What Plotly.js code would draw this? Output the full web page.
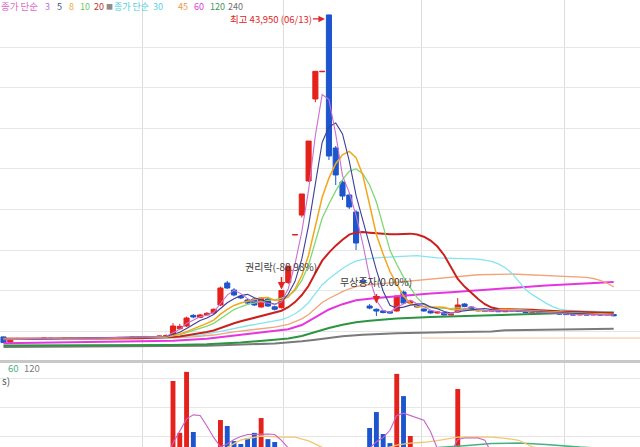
<!DOCTYPE html>
<html><head><meta charset="utf-8">
<script src="https://cdn.plot.ly/plotly-3.0.1.min.js"></script>
<style>html,body{margin:0;padding:0;background:#fff;overflow:hidden}#chart{width:640px;height:447px}</style>
</head><body><div id="chart"></div>
<script>
// ---- daily candles (index 0..90) ----
const open = [
4300,3650,4100,4050,4100,4020,4080,4150,4080,4120,
4200,4130,4100,4180,4120,4150,4220,4180,4230,4200,
4280,4250,4350,4300,4400,
4530,5300,5640,6950,6700,7000,7250,8230,10940,10070,
9300,8840,8960,7980,8960,8000,7900,11000,16850,19300,
23500,33600,36950,43950,27560,23370,21770,19680,11200,8100,
7700,7500,7400,7490,9820,8470,8350,7730,7490,7240,
7300,7000,7360,8350,7980,7700,7550,7450,7550,7400,
7500,7600,7450,7300,7400,7300,7350,7200,7150,7100,
7000,7100,7000,7080,7000,7050];
const high = [
4350,4150,4200,4150,4150,4100,4200,4200,4150,4250,
4250,4200,4200,4220,4180,4250,4300,4250,4300,4300,
4350,4400,4400,4450,4600,
6000,5900,6800,7100,7150,7350,7800,10500,11200,10300,
9450,9000,9100,9200,9100,8150,10000,13000,16900,21900,
28420,37000,37000,43950,27800,23600,22000,19900,11400,8350,
7800,7600,7450,9400,10000,8800,8450,7800,7550,7450,
7350,7200,9090,8450,8050,7750,7600,7650,7600,7620,
7720,7650,7500,7480,7450,7420,7400,7260,7200,7150,
7150,7150,7120,7120,7150,7100];
const low = [
3550,3600,4000,4000,4000,3950,4050,4050,4000,4100,
4100,4050,4080,4100,4050,4120,4150,4120,4180,4150,
4200,4220,4250,4280,4350,
4450,5150,5500,6600,6600,6900,7150,8100,10200,9300,
8950,8350,8100,7900,8000,7550,7800,10800,16850,19000,
23400,33200,36950,26080,23000,21160,20050,15000,11100,7700,
6870,7200,7150,7400,8350,8300,7900,7400,7150,7150,
6950,6950,7300,7950,7650,7450,7350,7400,7350,7350,
7450,7380,7250,7250,7250,7250,7150,7080,7000,6950,
6950,6950,6950,6950,6950,6850];
const close = [
3600,4100,4050,4100,4020,4080,4150,4080,4120,4200,
4130,4100,4180,4120,4150,4220,4180,4230,4200,4280,
4250,4350,4300,4400,4450,
5640,5600,6625,6750,7000,7200,7700,10320,10320,9460,
9100,8470,8230,9090,8100,7700,10000,13000,16900,21900,
28420,37000,37000,26580,24240,21650,20300,15860,11100,7850,
7480,7300,7240,9330,8470,8700,7980,7490,7250,7360,
7000,7100,8230,8050,7750,7500,7450,7550,7400,7550,
7650,7420,7300,7420,7300,7380,7200,7120,7050,7000,
7100,7000,7080,7000,7100,6900];
const volume = [
200000,250000,180000,150000,220000,170000,160000,210000,190000,150000,
230000,180000,170000,200000,160000,190000,210000,170000,180000,220000,
200000,190000,230000,210000,260000,
2930000,1110000,3250000,1140000,250000,200000,250000,1560000,1350000,820000,
720000,930000,1110000,1630000,890000,790000,150000,100000,50000,300000,
400000,450000,50000,550000,500000,450000,400000,500000,200000,1280000,
1840000,1070000,750000,3180000,2400000,1000000,400000,380000,350000,300000,
320000,350000,2650000,450000,380000,300000,280000,260000,240000,300000,
320000,260000,230000,250000,220000,240000,210000,200000,190000,210000,
230000,200000,190000,180000,210000,200000];

// ---- moving averages ----
const maDays = [0,4,8,12,16,20,22,23,24,25,26,27,28,29,30,31,32,33,34,35,36,37,38,39,40,41,42,43,44,45,46,47,48,49,50,51,52,53,54,55,56,57,58,59,60,61,62,63,64,65,66,67,68,69,70,71,72,73,74,75,76,77,78,79,80,81,82,83,84,85,86,87,88,89,90];
const ma3 = [3950,4057,4117,4137,4183,4243,
4300,4350,4383,4830,5230,5955,6325,6792,6983,7300,
8407,9447,10033,9627,9010,8600,8597,8473,8297,8600,
10233,13300,17267,22407,29107,34140,33527,29273,24157,22063,
19270,15753,11603,8810,7543,7340,7957,8347,8833,8383,
8057,7573,7367,7203,7153,7443,7793,8010,7767,7567,
7500,7467,7500,7533,7540,7457,7380,7340,7367,7293,
7233,7123,7057,7050,7033,7060,7027,7060,7000];
const ma5 = [4000,3974,4090,4146,4170,4228,
4276,4316,4350,4628,4878,5343,5813,6323,6635,7055,
7794,8508,9000,9380,9534,9116,8870,8598,8318,8624,
9578,11140,13900,18044,23444,28244,30180,30648,29294,25954,
21726,18630,15352,12518,9918,8194,7840,7964,8208,8344,
8394,7978,7756,7416,7240,7388,7548,7626,7726,7796,
7660,7530,7490,7520,7514,7464,7468,7418,7364,7320,
7284,7210,7150,7094,7054,7046,7036,7056,7016];
const ma8 = [4050,4021,4088,4130,4160,4204,
4251,4274,4308,4484,4659,4952,5264,5596,5958,6371,
7104,7689,8172,8481,8696,8850,9086,9136,8809,8769,
9211,10186,11865,14389,17878,21490,23850,25630,26711,27136,
26381,24216,20573,16883,14473,12348,10808,9329,8434,8044,
7999,7970,7978,7948,7669,7639,7558,7529,7530,7555,
7579,7629,7685,7613,7534,7478,7468,7449,7428,7403,
7349,7274,7221,7196,7144,7116,7069,7056,7029];
const ma10 = [4050,4037,4040,4116,4148,4191,
4228,4256,4286,4428,4570,4810,5065,5337,5632,5967,
6569,7161,7662,8008,8295,8455,8689,8799,8849,9079,
9347,10005,11249,13181,16034,18911,20660,22274,23669,24699,
24985,24405,23000,20906,17936,14960,13235,11658,10363,9131,
8294,7909,7860,7812,7792,7891,7763,7691,7571,7518,
7524,7539,7558,7623,7655,7562,7499,7454,7442,7417,
7374,7339,7284,7229,7187,7165,7123,7103,7055];
const ma20 = [4080,4069,4070,4080,4094,4147,
4172,4190,4209,4287,4359,4486,4618,4758,4911,5091,
5398,5708,5974,6218,6432,6632,6877,7068,7240,7523,
7958,8583,9455,10594,12164,13683,14675,15537,16259,16889,
17166,17205,17125,17044,16985,16936,16948,16966,17016,16915,
16640,16157,15430,14359,12864,11426,10499,9675,8967,8325,
7909,7724,7709,7718,7724,7727,7631,7573,7507,7468,
7449,7439,7421,7426,7421,7364,7311,7279,7249];

const ma30Days = [0,10,20,25,29,32,34,36,38,40,41,42,43,44,45,46,47,48,49,50,51,52,53,54,55,58,61,64,67,70,72,73,74,75,76,77,78,79,80,81,82,83,84,86,88,90];
const ma30 = [4090,4084,4115,4203,4522,4971,5360,5671,5975,6224,6421,6715,7141,7732,8539,9633,10725,11471,12137,12717,13248,13634,13857,13970,14031,14195,14303,14036,13921,13868,13601,13284,12806,12114,11128,10138,9499,8934,8459,8022,7731,7596,7567,7545,7462,7356];
const ma45Days = [0,20,25,28,31,34,37,40,42,44,45,46,47,48,49,50,51,52,53,55,58,61,65,70,75,80,85,86,87,88,89,90];
const ma45 = [4100,4110,4168,4317,4530,4926,5226,5505,5834,6514,7066,7797,8529,9029,9478,9869,10227,10489,10644,10800,11055,11335,11605,11949,12047,11823,11687,11620,11489,11269,10940,10462];
const ma60Days = [0,10,20,25,30,35,40,42,44,46,48,50,52,55,58,60,63,66,70,75,80,85,90];
const ma60 = [3502,3602,3717,3811,4073,4563,4964,5231,5761,6734,7677,8326,8812,9077,9300,9468,9642,9796,10046,10326,10620,10850,11050];
const ma120Days = [0,15,25,30,35,40,42,44,46,48,50,52,54,58,63,68,73,78,83,90];
const ma120 = [3250,3260,3300,3400,3600,3950,4100,4400,4900,5400,5800,6100,6300,6550,6750,6880,7000,7120,7240,7330];
const ma240Days = [0,20,30,40,42,44,46,48,50,53,58,65,72,74,80,83,85,90];
const ma240 = [3050,3100,3200,3500,3600,3750,3950,4200,4380,4550,4750,4880,4950,5120,5170,5200,5270,5290];
const refLineDays = [61.58, 93.88];
const refLinePrice = [4160, 4160];

// volume averages (shares)
const volMa5Days = [0,24,25,26,27,28,29,30,31,32,33,34,35,36,37,38,39,40,41,42,43,46,50,53,54,55,56,57,58,59,60,61,62,63,64,65,66,67,68,69,70,71,72,80,90];
const volMa5 = [250000,220000,750000,1200000,1600000,1740000,1720000,1350000,950000,620000,720000,880000,980000,1050000,1060000,1070000,1070000,1050000,850000,580000,400000,250000,400000,420000,570000,800000,950000,1200000,1720000,1800000,1720000,1630000,1550000,1150000,550000,400000,420000,880000,930000,930000,930000,850000,400000,300000,300000];
const volMa20Days = [20,25,30,33,35,38,41,43,45,47,50,53,56,58,60,62,64,67,70,72,74,76,78,81,85,90];
const volMa20 = [250000,350000,500000,600000,860000,1000000,960000,960000,830000,600000,500000,500000,550000,680000,750000,780000,840000,960000,970000,960000,920000,850000,620000,500000,400000,350000];
const volMa60Days = [20,30,40,50,55,60,64,68,72,76,80,85,90];
const volMa60 = [250000,350000,500000,550000,550000,580000,600000,660000,740000,750000,700000,610000,550000];

// axis helpers
const priceGrid = [5000,10000,15000,20000,25000,30000,35000,40000];
const volGrid = [1000000,2000000,3000000];
const monthLines = [20.43, 41.37, 61.58, 82.67];

const days = close.map((_, i) => i);
const RED = '#e4211b', BLUE = '#1c55cd';
const volColors = close.map((c, i) => (c >= open[i] ? RED : BLUE));

function line(x, y, color, width, ax) {
  return {type:'scatter', mode:'lines', x:x, y:y, xaxis: ax ? 'x2' : 'x', yaxis: ax ? 'y2' : 'y',
    line:{color:color, width:width}, hoverinfo:'skip'};
}
const traces = [
  line(ma240Days, ma240, '#7a7a7a', 2),
  line(ma120Days, ma120, '#2b9540', 2),
  line(refLineDays, refLinePrice, '#f5c09a', 1),
  line(ma60Days, ma60, '#e535e0', 2),
  line(ma45Days, ma45, '#f2a47a', 1.3),
  line(ma30Days, ma30, '#86e4ee', 1.3),
  line(maDays, ma20, '#cc1f1f', 2),
  line(maDays, ma10, '#7fd873', 1.3),
  line(maDays, ma8, '#f2a61c', 1.5),
  line(maDays, ma5, '#3d3f96', 1.1),
  line(maDays, ma3, '#cc6fd4', 1.1),
  {type:'candlestick', x:days, open:open, high:high, low:low, close:close, xaxis:'x', yaxis:'y',
   whiskerwidth:0, hoverinfo:'skip',
   increasing:{line:{color:RED, width:1}, fillcolor:RED},
   decreasing:{line:{color:BLUE, width:1}, fillcolor:BLUE}},
  {type:'bar', x:days, y:volume, xaxis:'x2', yaxis:'y2', marker:{color:volColors, line:{width:0}}, width:0.72, hoverinfo:'skip'},
  line(volMa60Days, volMa60, '#47b27f', 1.5, true),
  line(volMa20Days, volMa20, '#f3c673', 1.3, true),
  line(volMa5Days, volMa5, '#c862c8', 1.1, true)
];

const W = 640, H = 447;
const px = v => v / W, py = v => 1 - v / H;
const FONT = 'Noto Sans CJK KR, Noto Sans, sans-serif';
const legendTop = [
  ['종가 단순', 0, '#e06acb', 9.5], ['3', 44, '#c56fd0', 9], ['5', 56, '#3d3f96', 9], ['8', 68, '#f0aa3a', 9],
  ['10', 79, '#6cc85e', 9], ['20', 93, '#c43030', 9], ['■', 105, '#8c8c8c', 7], ['종가 단순', 113, '#4cd0e2', 9],
  ['30', 152, '#58d4e4', 9], ['45', 177, '#f0953e', 9], ['60', 193, '#e040dc', 9], ['120', 209, '#3e9a5c', 9], ['240', 227, '#707070', 9]
];
const annotations = legendTop.map(([t, x, c, s]) => ({xref:'paper', yref:'paper', x:px(x), y:py(6.5), xanchor:'left', yanchor:'middle',
  text:t, showarrow:false, borderpad:0, font:{family:FONT, size:s, color:c}}));
annotations.push(
  {xref:'paper', yref:'paper', x:px(6), y:py(368), xanchor:'left', yanchor:'middle', text:'60', showarrow:false, font:{family:FONT, size:9.5, color:'#4caf7f'}},
  {xref:'paper', yref:'paper', x:px(22), y:py(368), xanchor:'left', yanchor:'middle', text:'120', showarrow:false, font:{family:FONT, size:9.5, color:'#7c7c7c'}},
  {xref:'paper', yref:'paper', x:px(0), y:py(380), xanchor:'left', yanchor:'middle', text:'s)', showarrow:false, font:{family:FONT, size:10, color:'#555'}},
  {x:48, y:43950, xref:'x', yref:'y', text:'최고 43,950 (06/13)', showarrow:true, ax:-16, ay:0, xanchor:'right', yshift:-4, borderpad:0,
   arrowhead:2, arrowsize:1, arrowwidth:1.3, arrowcolor:'#e02525', standoff:4, font:{family:FONT, size:9.5, color:'#e02525'}},
  {x:41, y:12950, xref:'x', yref:'y', text:'권리락(-88.98%)', showarrow:false, font:{family:FONT, size:10, color:'#3c3c3c'}},
  {x:41, y:10000, xref:'x', yref:'y', text:'', showarrow:true, ax:0, ay:-15, arrowhead:2, arrowsize:1, arrowwidth:1.5, arrowcolor:'#e02525', standoff:1},
  {x:55, y:11060, xref:'x', yref:'y', text:'무상증자(0.00%)', showarrow:false, font:{family:FONT, size:10, color:'#3c3c3c'}},
  {x:55, y:7800, xref:'x', yref:'y', text:'', showarrow:true, ax:0, ay:-16, arrowhead:2, arrowsize:1, arrowwidth:1.5, arrowcolor:'#e02525', standoff:5}
);

const xCommon = {range:[-0.516, 93.88], tickvals:monthLines, showticklabels:false, showgrid:true, gridcolor:'#dcdcdc', gridwidth:1,
  zeroline:false, showline:false, ticks:'', fixedrange:true};
const layout = {
  width:W, height:H, margin:{l:0, r:0, t:0, b:0}, showlegend:false,
  paper_bgcolor:'#ffffff', plot_bgcolor:'#ffffff', boxgap:0.25, boxgroupgap:0,
  xaxis:Object.assign({anchor:'y', domain:[0,1], rangeslider:{visible:false}}, xCommon),
  yaxis:{domain:[1-361/H, 1], range:[1330, 45788], tickvals:priceGrid, showticklabels:false, showgrid:true, gridcolor:'#e6e6e6',
    zeroline:false, ticks:'', showline:false},
  xaxis2:Object.assign({anchor:'y2', domain:[0,1]}, xCommon),
  yaxis2:{domain:[0, 1-363/H], range:[614000, 3561000], tickvals:volGrid, showticklabels:false, showgrid:true, gridcolor:'#e6e6e6',
    zeroline:false, ticks:'', showline:false},
  shapes:[{type:'line', xref:'paper', yref:'paper', x0:0, x1:1, y0:py(361.5), y1:py(361.5), line:{color:'#c8c8c8', width:3}}],
  annotations:annotations
};
Plotly.newPlot('chart', traces, layout, {displayModeBar:false, staticPlot:true});
</script>
</body></html>
